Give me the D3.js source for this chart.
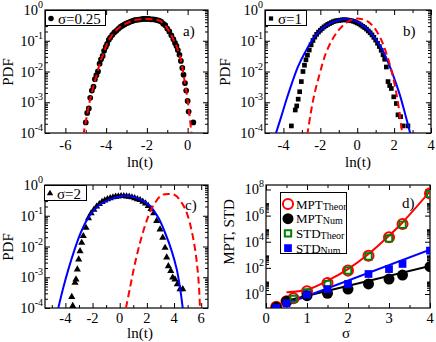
<!DOCTYPE html>
<html>
<head>
<meta charset="utf-8">
<script src="https://cdn.jsdelivr.net/npm/d3@7"></script>
<style>
body { margin: 0; background: #fff; }
text { font-family: "Liberation Serif", "Times New Roman", serif; fill: #000; }
</style>
</head>
<body>
<svg id="fig" width="436" height="342"></svg>
<script>
// ---------- data ----------
// panel a) sigma = 0.25
const aLnT = [-5.0, -4.93, -4.85, -4.78, -4.7, -4.62, -4.55, -4.48, -4.4, -4.32, -4.25, -4.17, -4.1, -4.02, -3.95, -3.87, -3.8, -3.7, -3.6, -3.5, -3.4, -3.3, -3.2, -3.1, -3.0, -2.9, -2.8, -2.7, -2.6, -2.5, -2.4, -2.3, -2.2, -2.1, -2.0, -1.9, -1.8, -1.7, -1.6, -1.5, -1.4, -1.3, -1.2, -1.1, -1.0, -0.9, -0.8, -0.7, -0.62, -0.55, -0.48, -0.4, -0.33, -0.26, -0.2, -0.13, -0.07, 0.0, 0.05, 0.28];
const aPdf = [2.2e-4, 4.5e-4, 6.3e-4, 1.4e-3, 2.4e-3, 3.2e-3, 5.6e-3, 7.6e-3, 0.010, 0.018, 0.025, 0.032, 0.047, 0.063, 0.079, 0.107, 0.126, 0.155, 0.186, 0.21, 0.245, 0.28, 0.31, 0.34, 0.37, 0.39, 0.42, 0.44, 0.47, 0.48, 0.49, 0.5, 0.51, 0.51, 0.51, 0.51, 0.5, 0.5, 0.49, 0.47, 0.45, 0.42, 0.36, 0.32, 0.25, 0.2, 0.15, 0.112, 0.085, 0.068, 0.05, 0.035, 0.022, 0.013, 7.9e-3, 4.2e-3, 2.4e-3, 1.1e-3, 5e-4, 2.2e-4];
const aTheoLnT = [-5.12, -4.92, -4.79, -4.63, -4.46, -4.30, -4.10, -3.89, -3.65, -3.32, -2.99, -2.58, -2.09, -1.68, -1.36, -1.11, -0.90, -0.70, -0.54, -0.37, -0.24, -0.13, -0.02, 0.08, 0.20];
const aTheoPdf = [8.5e-5, 4.4e-4, 1.2e-3, 3.2e-3, 7.8e-3, 0.019, 0.044, 0.10, 0.17, 0.28, 0.37, 0.47, 0.51, 0.50, 0.44, 0.32, 0.20, 0.11, 0.065, 0.030, 0.011, 4.2e-3, 1.5e-3, 4.4e-4, 8.5e-5];

// panel b) sigma = 1
const bLnT = [-3.57, -3.36, -3.28, -3.2, -3.12, -3.03, -2.94, -2.86, -2.78, -2.7, -2.6, -2.5, -2.4, -2.3, -2.2, -2.1, -2.0, -1.9, -1.8, -1.7, -1.6, -1.5, -1.4, -1.3, -1.2, -1.1, -1.0, -0.9, -0.8, -0.7, -0.6, -0.5, -0.4, -0.3, -0.2, -0.1, 0.0, 0.1, 0.2, 0.3, 0.4, 0.5, 0.6, 0.7, 0.8, 0.9, 1.0, 1.1, 1.2, 1.3, 1.4, 1.49, 1.58, 1.67, 1.76, 1.85, 1.98, 2.12, 2.21, 2.35, 2.48, 2.75];
const bPdf = [1.7e-4, 5.6e-4, 7.6e-4, 1.26e-3, 2.2e-3, 4.7e-3, 0.010, 0.016, 0.024, 0.034, 0.05, 0.074, 0.102, 0.132, 0.162, 0.191, 0.219, 0.251, 0.282, 0.309, 0.339, 0.363, 0.389, 0.417, 0.437, 0.447, 0.457, 0.468, 0.479, 0.479, 0.479, 0.468, 0.457, 0.447, 0.427, 0.407, 0.38, 0.355, 0.324, 0.295, 0.269, 0.24, 0.209, 0.182, 0.155, 0.129, 0.105, 0.083, 0.065, 0.049, 0.035, 0.025, 0.014, 4.7e-3, 3.5e-3, 2.8e-3, 1.5e-3, 9.1e-4, 3.9e-4, 3.4e-4, 1.7e-4, 1.7e-4];
const bFitLnT = [-4.44, -4.12, -3.84, -3.54, -3.21, -2.81, -2.31, -1.76, -1.13, -0.59, -0.23, 0.22, 0.76, 1.22, 1.58, 1.94, 2.31, 2.61, 2.90];
const bFitPdf = [8.5e-5, 3.4e-4, 1.2e-3, 4.2e-3, 0.0145, 0.044, 0.135, 0.29, 0.447, 0.51, 0.468, 0.347, 0.174, 0.072, 0.027, 7.8e-3, 1.74e-3, 3.9e-4, 8.5e-5];
const bTheoLnT = [-2.71, -2.52, -2.31, -2.03, -1.73, -1.37, -1.0, -0.59, -0.14, 0.22, 0.59, 0.95, 1.31, 1.58, 1.85, 2.09, 2.27, 2.45];
const bTheoPdf = [8.5e-5, 4.4e-4, 1.95e-3, 8.7e-3, 0.035, 0.105, 0.224, 0.389, 0.513, 0.513, 0.417, 0.251, 0.105, 0.039, 0.0112, 2.5e-3, 5.6e-4, 8.5e-5];

// panel c) sigma = 2
const cLnT = [-3.46, -3.53, -3.29, -3.22, -3.12, -3.02, -2.92, -2.8, -2.68, -2.48, -2.3, -2.1, -1.9, -1.7, -1.5, -1.3, -1.1, -0.9, -0.7, -0.5, -0.3, -0.1, 0.1, 0.3, 0.5, 0.7, 0.9, 1.1, 1.3, 1.5, 1.7, 1.9, 2.1, 2.3, 2.5, 2.72, 2.97, 3.17, 3.34, 3.46, 3.58, 3.76, 3.9, 4.07, 4.24, 4.44, 4.64];
const cPdf = [1.17e-4, 2.3e-4, 6.6e-4, 8.5e-4, 1.8e-3, 3.8e-3, 7.1e-3, 0.0132, 0.0219, 0.0407, 0.083, 0.12, 0.158, 0.2, 0.24, 0.282, 0.316, 0.347, 0.372, 0.398, 0.417, 0.427, 0.437, 0.437, 0.427, 0.417, 0.398, 0.372, 0.347, 0.324, 0.288, 0.251, 0.209, 0.166, 0.12, 0.068, 0.036, 0.0195, 9.1e-3, 4.4e-3, 2.3e-3, 1.6e-3, 9.8e-4, 8.5e-4, 5.9e-4, 4.1e-4, 4.1e-4];
const cFitLnT = [-4.52, -4.15, -3.78, -3.36, -2.87, -2.31, -1.58, -0.71, 0.15, 0.76, 1.5, 2.23, 2.84, 3.34, 3.83, 4.2, 4.44, 4.64];
const cFitPdf = [1.0e-4, 4.6e-4, 1.8e-3, 7.1e-3, 0.028, 0.087, 0.209, 0.339, 0.437, 0.437, 0.339, 0.209, 0.087, 0.028, 7.1e-3, 1.8e-3, 4.6e-4, 1.0e-4];
const cTheoLnT = [0.46, 0.76, 1.05, 1.37, 1.74, 2.16, 2.6, 3.09, 3.58, 4.07, 4.57, 4.98, 5.3, 5.55, 5.72, 5.84, 5.91];
const cTheoPdf = [1.0e-4, 4.6e-4, 2.0e-3, 8.1e-3, 0.032, 0.11, 0.263, 0.468, 0.513, 0.468, 0.263, 0.11, 0.032, 8.1e-3, 2.0e-3, 4.6e-4, 1.0e-4];

// panel d) moments vs sigma
const sigmaTheor = [0.25, 0.5, 0.67, 1, 1.5, 2, 2.5, 3, 3.33, 4];
const mptTheor = [0.107, 0.275, 0.47, 1.6, 6.9, 62, 850, 2.2e4, 2.3e5, 5.0e7];
const sigmaStdTheor = [0.67, 1, 1.5, 2, 2.5, 3, 3.33, 4];
const stdTheor = [0.42, 1.35, 5.9, 62, 760, 1.8e4, 2.0e5, 4.5e7];
const sigmaNum = [0.25, 0.5, 1, 1.5, 2, 2.5, 3, 3.33, 4];
const mptNum = [0.095, 0.275, 0.74, 1.12, 2.4, 5.9, 14, 28, 123];
const stdNum = [0.085, 0.195, 0.89, 2.4, 5.9, 34, 81, 200, 2100];
const mptCurveSigma = [0.5, 1, 1.5, 2, 2.5, 3, 3.33, 4];
const mptCurve = [1.35, 2.1, 10.5, 81, 1150, 2.9e4, 3.0e5, 7.2e7];
const numFitSigma = [0.5, 4];
const mptNumFit = [0.31, 141];
const stdNumFit = [0.18, 2500];

const pdfTicks = [1e-4, 1e-3, 1e-2, 1e-1, 1];
const momentTicks = [1, 1e2, 1e4, 1e6, 1e8];

// ---------- helpers ----------
const svg = d3.select("#fig");

function logLabel(sel, v) {
  sel.append("tspan").text("10");
  sel.append("tspan").attr("dy", -7).attr("font-size", 10).text(Math.round(Math.log10(v)));
}

function panel(id, box, xDomain, yDomain, xMajor, xMinor, yMajor, yMinor, labelGap) {
  const x = d3.scaleLinear().domain(xDomain).range([box.x0, box.x1]);
  const y = d3.scaleLog().domain(yDomain).range([box.y1, box.y0]);
  const g = svg.append("g");

  g.append("clipPath").attr("id", "clip-" + id)
    .append("rect").attr("x", box.x0).attr("y", box.y0)
    .attr("width", box.x1 - box.x0).attr("height", box.y1 - box.y0);

  const tick = (axis, vals, len, tr) => {
    g.append("g").attr("transform", tr)
      .call(axis.tickValues(vals).tickSizeInner(-len).tickSizeOuter(0).tickFormat(""))
      .call(s => s.select(".domain").remove())
      .call(s => s.selectAll("line").attr("stroke", "#000"));
  };
  tick(d3.axisBottom(x), xMajor, 5, `translate(0,${box.y1})`);
  tick(d3.axisBottom(x), xMinor, 3, `translate(0,${box.y1})`);
  tick(d3.axisTop(x), xMajor, 5, `translate(0,${box.y0})`);
  tick(d3.axisTop(x), xMinor, 3, `translate(0,${box.y0})`);
  tick(d3.axisLeft(y), yMajor, 5, `translate(${box.x0},0)`);
  tick(d3.axisLeft(y), yMinor, 3, `translate(${box.x0},0)`);
  tick(d3.axisRight(y), yMajor, 5, `translate(${box.x1},0)`);
  tick(d3.axisRight(y), yMinor, 3, `translate(${box.x1},0)`);

  g.append("rect").attr("x", box.x0).attr("y", box.y0)
    .attr("width", box.x1 - box.x0).attr("height", box.y1 - box.y0)
    .attr("fill", "none").attr("stroke", "#000").attr("stroke-width", 1.2);

  g.selectAll(".xl").data(xMajor).join("text")
    .attr("x", d => x(d)).attr("y", box.y1 + labelGap)
    .attr("text-anchor", "middle").attr("font-size", 14.5)
    .text(d => d);

  g.selectAll(".yl").data(yMajor).join("text")
    .attr("x", box.x0 - 2).attr("y", d => y(d) + 5)
    .attr("text-anchor", "end").attr("font-size", 14.5)
    .each(function (d) { logLabel(d3.select(this), d); });

  const plot = g.append("g").attr("clip-path", `url(#clip-${id})`);
  return { x, y, g, plot };
}

function minorLog(lo, hi, step) {
  const out = [];
  for (let e = lo; e < hi; e += step)
    for (let k = 2; k <= 9; k++) out.push(k * Math.pow(10, e));
  return out;
}

function curve(p, xs, ys, color, dash) {
  p.plot.append("path")
    .datum(xs.map((v, i) => [v, ys[i]]))
    .attr("fill", "none").attr("stroke", color).attr("stroke-width", 2)
    .attr("stroke-dasharray", dash || null)
    .attr("d", d3.line().x(d => p.x(d[0])).y(d => p.y(d[1])).curve(d3.curveCatmullRom));
}

function marks(p, xs, ys, type, size, fill, stroke, sw) {
  p.plot.selectAll(null).data(xs.map((v, i) => [v, ys[i]])).join("path")
    .attr("transform", d => `translate(${p.x(d[0])},${p.y(d[1])})`)
    .attr("d", d3.symbol().type(type).size(size))
    .attr("fill", fill).attr("stroke", stroke || "none").attr("stroke-width", sw || 0);
}

function pdfLegend(p, box, w, type, size, label) {
  p.g.append("rect").attr("x", box.x0 + 0.5).attr("y", box.y0 + 0.5).attr("width", w).attr("height", 15)
    .attr("fill", "#fff").attr("stroke", "#000").attr("stroke-width", 1);
  p.g.append("path").attr("transform", `translate(${box.x0 + 6},${box.y0 + 8.5})`)
    .attr("d", d3.symbol().type(type).size(size)).attr("fill", "#000");
  p.g.append("text").attr("x", box.x0 + 13).attr("y", box.y0 + 13.5).attr("font-size", 15).text(label);
}

const pdfMinor = minorLog(-4, 0, 1);

// ---------- panel a ----------
const boxA = { x0: 45, x1: 208, y0: 10, y1: 133 };
const pa = panel("a", boxA, [-7, 1], [1e-4, 1], [-6, -4, -2, 0], [-5, -3, -1], pdfTicks, pdfMinor, 17);
marks(pa, aLnT, aPdf, d3.symbolCircle, 26, "#000");
curve(pa, aTheoLnT, aTheoPdf, "#ff0000", "7,4");
pdfLegend(pa, boxA, 60, d3.symbolCircle, 24, "σ=0.25");
pa.g.append("text").attr("x", 183).attr("y", 36).attr("font-size", 15).text("a)");

// ---------- panel b ----------
const boxB = { x0: 265, x1: 431, y0: 10, y1: 133 };
const pb = panel("b", boxB, [-5, 4], [1e-4, 1], [-4, -2, 0, 2, 4], [-3, -1, 1, 3], pdfTicks, pdfMinor, 17);
marks(pb, bLnT, bPdf, d3.symbolSquare, 22, "#000");
curve(pb, bFitLnT, bFitPdf, "#0000ff");
curve(pb, bTheoLnT, bTheoPdf, "#ff0000", "7,4");
pdfLegend(pb, boxB, 41, d3.symbolSquare, 18, "σ=1");
pb.g.append("text").attr("x", 403).attr("y", 36).attr("font-size", 15).text("b)");

// ---------- panel c ----------
const boxC = { x0: 45, x1: 208, y0: 185, y1: 308 };
const pc = panel("c", boxC, [-5.5, 6.5], [1e-4, 1], [-4, -2, 0, 2, 4, 6], [-5, -3, -1, 1, 3, 5], pdfTicks, pdfMinor, 15);
marks(pc, cLnT, cPdf, d3.symbolTriangle, 22, "#000");
curve(pc, cFitLnT, cFitPdf, "#0000ff");
curve(pc, cTheoLnT, cTheoPdf, "#ff0000", "7,4");
pdfLegend(pc, { x0: 44, y0: 185 }, 42, d3.symbolTriangle, 18, "σ=2");
pc.g.append("text").attr("x", 185).attr("y", 210).attr("font-size", 15).text("c)");

// ---------- panel d ----------
const boxD = { x0: 266, x1: 430, y0: 185, y1: 308 };
const pd = panel("d", boxD, [0, 4], [0.085, 2.2e8], [0, 1, 2, 3, 4], [0.5, 1.5, 2.5, 3.5], momentTicks, minorLog(0, 8, 2), 15);
curve(pd, mptCurveSigma, mptCurve, "#ff0000");
curve(pd, numFitSigma, mptNumFit, "#000");
curve(pd, numFitSigma, stdNumFit, "#0000ff");
marks(pd, sigmaTheor, mptTheor, d3.symbolCircle, 80, "none", "#ff0000", 2);
marks(pd, sigmaNum, mptNum, d3.symbolCircle, 95, "#000");
marks(pd, sigmaStdTheor, stdTheor, d3.symbolSquare, 40, "none", "#008000", 1.8);
marks(pd, sigmaNum, stdNum, d3.symbolSquare, 60, "#0000ff");
pd.g.append("text").attr("x", 402).attr("y", 208).attr("font-size", 15).text("d)");

// legend d
const legD = pd.g.append("g");
legD.append("rect").attr("x", 280.5).attr("y", 192.5).attr("width", 66).attr("height", 61)
  .attr("fill", "#fff").attr("stroke", "#000");
const legItems = [
  { name: "MPT", sub: "Theor", type: d3.symbolCircle, size: 80, fill: "none", stroke: "#ff0000" },
  { name: "MPT", sub: "Num", type: d3.symbolCircle, size: 95, fill: "#000", stroke: "none" },
  { name: "STD", sub: "Theor", type: d3.symbolSquare, size: 40, fill: "none", stroke: "#008000" },
  { name: "STD", sub: "Num", type: d3.symbolSquare, size: 60, fill: "#0000ff", stroke: "none" }
];
legItems.forEach((it, i) => {
  const cy = 204 + i * 14.7;
  legD.append("path").attr("transform", `translate(288,${cy})`)
    .attr("d", d3.symbol().type(it.type).size(it.size))
    .attr("fill", it.fill).attr("stroke", it.stroke).attr("stroke-width", 2);
  const t = legD.append("text").attr("x", 296).attr("y", cy + 4.5).attr("font-size", 13);
  t.append("tspan").text(it.name);
  t.append("tspan").attr("font-size", 10).attr("dy", 1).text(it.sub);
});

// ---------- axis titles ----------
const titles = [
  { t: "PDF", x: 13, y: 72, r: true },
  { t: "PDF", x: 230, y: 72, r: true },
  { t: "PDF", x: 13, y: 247, r: true },
  { t: "MPT, STD", x: 234, y: 232, r: true },
  { t: "ln(t)", x: 140, y: 167 },
  { t: "ln(t)", x: 358, y: 167 },
  { t: "ln(t)", x: 140, y: 338 },
  { t: "σ", x: 346, y: 338 }
];
svg.selectAll(".title").data(titles).join("text")
  .attr("transform", d => `translate(${d.x},${d.y})` + (d.r ? " rotate(-90)" : ""))
  .attr("text-anchor", "middle").attr("font-size", 15)
  .text(d => d.t);
</script>
</body>
</html>
